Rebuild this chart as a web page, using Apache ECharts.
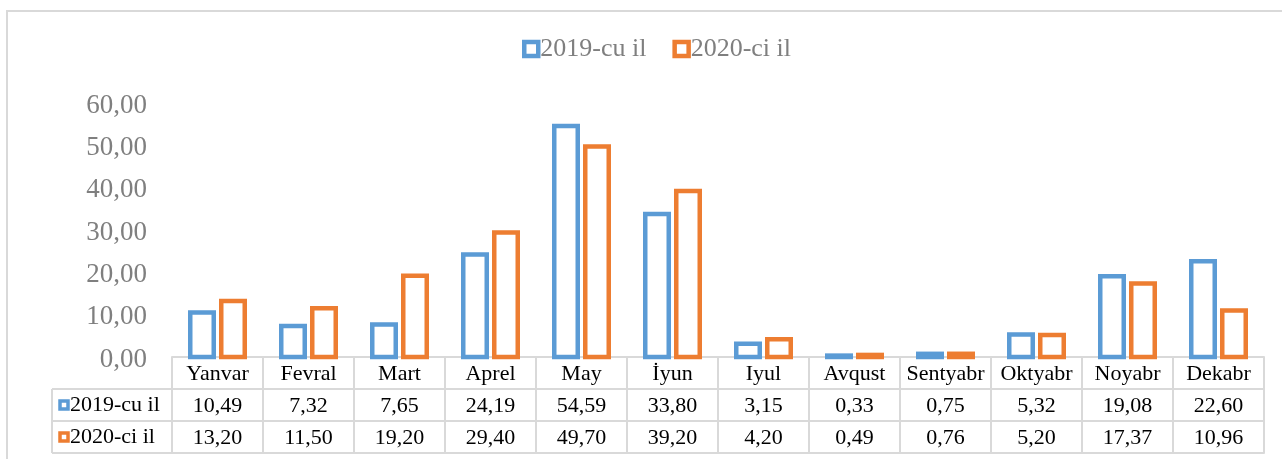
<!DOCTYPE html>
<html>
<head>
<meta charset="utf-8">
<script src="https://cdn.jsdelivr.net/npm/echarts@6/dist/echarts.min.js"></script>
<style>
html,body{margin:0;padding:0;background:#fff;}
#c{width:1282px;height:459px;}
</style>
</head>
<body>
<div id="c"></div>
<script>
const months = ['Yanvar','Fevral','Mart','Aprel','May','İyun','Iyul','Avqust','Sentyabr','Oktyabr','Noyabr','Dekabr'];
const values2019 = [10.49,7.32,7.65,24.19,54.59,33.80,3.15,0.33,0.75,5.32,19.08,22.60];
const values2020 = [13.20,11.50,19.20,29.40,49.70,39.20,4.20,0.49,0.76,5.20,17.37,10.96];
const seriesNames = ['2019-cu il','2020-ci il'];
const yMin = 0, yMax = 60, yStep = 10;

const BLUE = '#5B9BD5', ORANGE = '#ED7D31', GRID = '#d9d9d9';
const FONT = '"Liberation Serif", "Times New Roman", serif';
const ROW = 32;
const TABLE_FS = 22;
const fmt = v => v.toFixed(2).replace('.', ',');

const chart = echarts.init(document.getElementById('c'), null, {renderer: 'canvas'});

function rowAxis(offset, vals, showLabel) {
  return {
    type: 'category', data: months, position: 'bottom', offset: offset,
    axisLine: {show: true, lineStyle: {color: GRID, width: 2}},
    axisTick: {show: !!vals, interval: 0, length: ROW, lineStyle: {color: GRID, width: 2}},
    axisLabel: {
      show: showLabel, interval: 0, margin: 6, color: '#000', fontSize: TABLE_FS, fontFamily: FONT,
      formatter: (v, i) => vals ? fmt(vals[i]) : v
    },
    splitLine: {show: false}
  };
}

function hollowBars(name, vals, color, shift) {
  return {
    name: name, type: 'custom', xAxisIndex: 0, yAxisIndex: 0,
    data: vals.map((v, i) => [i, v]),
    encode: {x: 0, y: 1},
    itemStyle: {color: '#fff', borderColor: color, borderWidth: 4.5},
    renderItem: function (params, api) {
      const idx = api.value(0), val = api.value(1);
      const top = api.coord([idx, val]);
      const base = api.coord([idx, 0]);
      const w = 23.5;
      const cx = top[0] + shift;
      return {
        type: 'rect',
        shape: {x: cx - w / 2, y: top[1], width: w, height: base[1] - top[1]},
        style: {fill: '#fff', stroke: color, lineWidth: 4.5}
      };
    }
  };
}

const option = {
  animation: false,
  backgroundColor: '#fff',
  textStyle: {fontFamily: FONT},
  legend: {
    left: 517, top: 31, itemWidth: 14, itemHeight: 14, itemGap: 26,
    icon: 'rect',
    itemStyle: {borderWidth: 4.5},
    textStyle: {color: '#7f7f7f', fontSize: 26, fontFamily: FONT, padding: [0, 0, 0, -3]},
    data: seriesNames
  },
  grid: {left: 172, right: 18, top: 103, bottom: 102, containLabel: false},
  xAxis: [
    {
      type: 'category', data: months, position: 'bottom',
      axisLine: {show: true, lineStyle: {color: GRID, width: 2}},
      axisTick: {show: true, interval: 0, length: ROW, lineStyle: {color: GRID, width: 2}},
      axisLabel: {interval: 0, margin: 6, color: '#000', fontSize: TABLE_FS, fontFamily: FONT}
    },
    rowAxis(ROW, values2019, true),
    rowAxis(ROW * 2, values2020, true),
    rowAxis(ROW * 3, null, false)
  ],
  yAxis: {
    type: 'value', min: yMin, max: yMax, interval: yStep,
    axisLine: {show: false}, axisTick: {show: false}, splitLine: {show: false},
    axisLabel: {
      formatter: v => '{t|' + fmt(v) + '}', margin: 25,
      rich: {t: {color: '#7f7f7f', fontSize: 27, fontFamily: FONT, padding: [5, 0, 0, 0]}}
    }
  },
  series: [
    hollowBars(seriesNames[0], values2019, BLUE, -15.5),
    hollowBars(seriesNames[1], values2020, ORANGE, 15.5)
  ]
};
chart.setOption(option);

// Row header column of the data table, positioned from the chart's own scales
const c0 = chart.convertToPixel({xAxisIndex: 0}, months[0]);
const c1 = chart.convertToPixel({xAxisIndex: 0}, months[1]);
const band = c1 - c0;
const tableLeft = c0 - band / 2;
const yBase = chart.convertToPixel({yAxisIndex: 0}, yMin);
const headLeft = tableLeft - 120;
const lineStyle = {stroke: GRID, lineWidth: 2};
const g = [
  {type: 'rect', shape: {x: 7, y: 11, width: 1300, height: 500}, style: {fill: 'none', stroke: GRID, lineWidth: 2}, silent: true},
  {type: 'line', shape: {x1: headLeft, y1: yBase + ROW, x2: tableLeft, y2: yBase + ROW}, style: lineStyle},
  {type: 'line', shape: {x1: headLeft, y1: yBase + ROW * 2, x2: tableLeft, y2: yBase + ROW * 2}, style: lineStyle},
  {type: 'line', shape: {x1: headLeft, y1: yBase + ROW * 3, x2: tableLeft, y2: yBase + ROW * 3}, style: lineStyle},
  {type: 'line', shape: {x1: headLeft, y1: yBase + ROW, x2: headLeft, y2: yBase + ROW * 3}, style: lineStyle}
];
[BLUE, ORANGE].forEach((col, i) => {
  const cy = yBase + ROW * (i + 1) + ROW / 2;
  g.push({type: 'rect', shape: {x: headLeft + 8, y: cy - 4, width: 8, height: 8},
    style: {fill: '#fff', stroke: col, lineWidth: 3.5}});
  g.push({type: 'text', x: headLeft + 18, y: cy,
    style: {text: seriesNames[i], fill: '#000', font: TABLE_FS + 'px ' + FONT, textVerticalAlign: 'middle', verticalAlign: 'middle'}});
});
chart.setOption({graphic: g});
</script>
</body>
</html>
